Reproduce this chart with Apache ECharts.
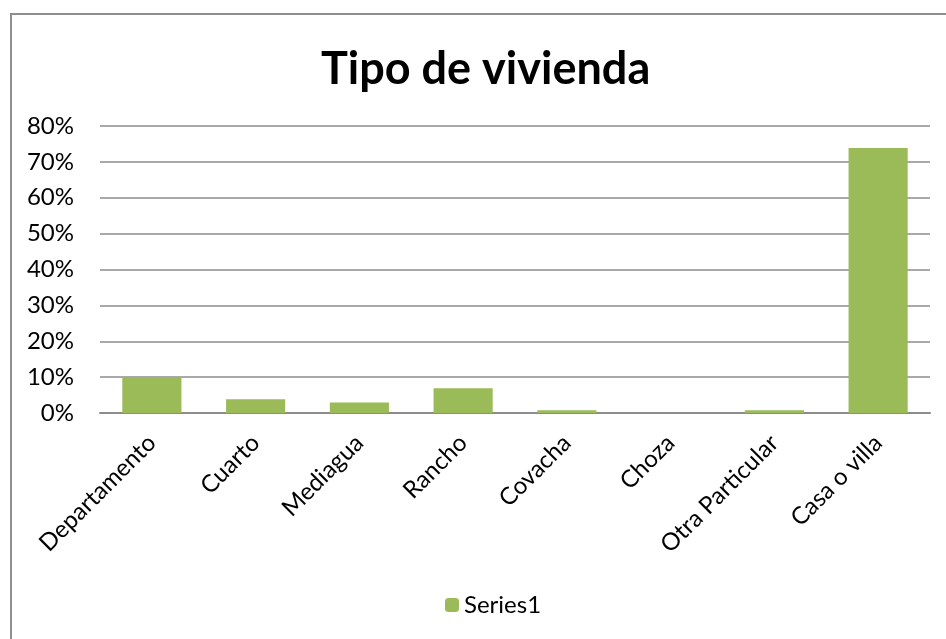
<!DOCTYPE html>
<html>
<head>
<meta charset="utf-8">
<script src="https://cdn.jsdelivr.net/npm/echarts@6/dist/echarts.min.js"></script>
<style>
  html, body { margin: 0; padding: 0; background: #fff; }
  #frame {
    position: absolute; left: 10px; top: 13px;
    width: 980px; height: 680px;
    border: 2px solid #8e8e8e;
  }
  #main { position: absolute; left: 0; top: 0; width: 946px; height: 639px; }
</style>
</head>
<body>
<div id="frame"></div>
<div id="main"></div>
<script>
// categorias y valores (proporción)
const categories = ['Departamento', 'Cuarto', 'Mediagua', 'Rancho', 'Covacha', 'Choza', 'Otra Particular', 'Casa o villa'];
const series1 = [0.10, 0.038, 0.029, 0.069, 0.008, 0, 0.008, 0.739];
const yTicks = [0, 0.1, 0.2, 0.3, 0.4, 0.5, 0.6, 0.7, 0.8];

let chartDom = document.getElementById('main');
let myChart = echarts.init(chartDom);
let font = 'Lato, "Open Sans", sans-serif';
let option = {
  animation: false,
  title: {
    text: 'Tipo de vivienda',
    left: 316,
    top: 42,
    textStyle: { fontSize: 45, fontWeight: 'bold', color: '#000', fontFamily: font }
  },
  legend: {
    data: ['Series1'],
    bottom: 17,
    left: 440,
    itemWidth: 14,
    itemHeight: 14,
    itemGap: 8,
    textStyle: { fontSize: 24, color: '#000', fontFamily: font }
  },
  grid: { left: 100, right: 16, top: 126, bottom: 226 },
  xAxis: {
    type: 'category',
    data: categories,
    axisLine: { lineStyle: { color: '#8c8c8c', width: 2 } },
    axisTick: { show: false },
    axisLabel: {
      rotate: 45,
      interval: 0,
      margin: 26,
      fontSize: 24,
      color: '#000',
      fontFamily: font
    }
  },
  yAxis: {
    type: 'value',
    min: yTicks[0],
    max: yTicks[yTicks.length - 1],
    interval: 0.1,
    axisLine: { show: false },
    axisTick: { show: false },
    splitLine: { lineStyle: { color: '#8c8c8c', width: 1.5 } },
    axisLabel: {
      margin: 26,
      fontSize: 24,
      color: '#000',
      fontFamily: font,
      formatter: v => Math.round(v * 100) + '%'
    }
  },
  series: [
    {
      name: 'Series1',
      type: 'bar',
      data: series1,
      barCategoryGap: '43%',
      itemStyle: { color: '#9bbb59' }
    }
  ]
};
myChart.setOption(option);
</script>
</body>
</html>
